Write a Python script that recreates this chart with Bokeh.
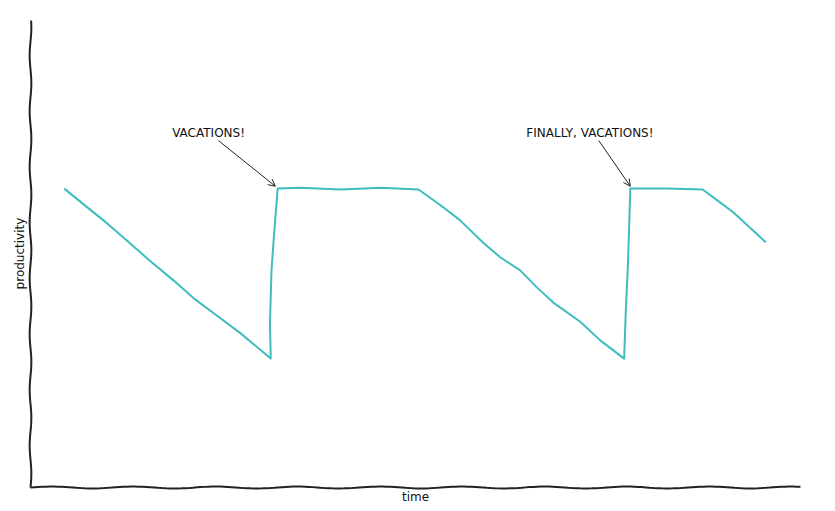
import numpy as np
from bokeh.plotting import figure
from bokeh.models import Range1d, Label, Arrow, OpenHead
from bokeh.embed import file_html
from bokeh.resources import INLINE

# productivity over time (both axes 0..100)
time = [4.4, 6.1, 10.0, 12.1, 15.2, 18.6, 21.2, 23.8, 27.3, 31.2,
        31.1, 31.3, 31.6, 32.1, 35.1, 40.3, 45.5, 50.4,
        53.6, 55.8, 58.8, 61.0, 63.6, 65.8, 67.9, 71.4, 74.0, 77.1,
        77.3, 77.6, 77.9, 78.8, 82.7, 87.3, 89.6, 91.3, 95.5]
productivity = [64.0, 61.7, 56.5, 53.5, 49.0, 44.3, 40.5, 37.3, 33.0, 27.6,
                35.1, 46.5, 53.5, 64.0, 64.2, 63.8, 64.2, 63.8,
                60.0, 57.2, 52.4, 49.3, 46.5, 42.8, 39.6, 35.5, 31.5, 27.6,
                37.3, 48.0, 64.0, 64.0, 64.0, 63.8, 61.0, 58.9, 52.5]

notes = ["VACATIONS!", "FINALLY, VACATIONS!"]
note_x = [18.4, 64.4]
note_y = [76.0, 76.0]
arrow_start = [(24.4, 74.3), (73.8, 74.3)]
arrow_end = [(31.8, 64.5), (77.9, 64.5)]

FONT = "DejaVu Sans"

# the frame fills the whole figure, the drawn spines sit inside it
p = figure(
    width=819, height=505,
    x_range=Range1d(-3.896, 102.47), y_range=Range1d(-3.854, 104.28),
    min_border=0, toolbar_location=None, output_backend="svg",
)
p.axis.visible = False
p.grid.grid_line_color = None
p.outline_line_color = None
p.background_fill_color = "white"

# hand-drawn looking spines (decoration only)
sx = np.linspace(0, 100, 200)
p.line(sx, 0.2 * np.sin(sx / 1.7), line_color="#222222", line_width=2)
sy = np.linspace(0, 100, 200)
p.line(0.11 * np.sin(sy / 1.9), sy, line_color="#222222", line_width=2)

p.line(time, productivity, line_color="#3dbdbd", line_width=2, line_join="round")

for txt, x, y in zip(notes, note_x, note_y):
    p.add_layout(Label(x=x, y=y, text=txt, text_font=FONT, text_font_size="12px",
                       text_color="#111111", text_baseline="middle"))

for (x0, y0), (x1, y1) in zip(arrow_start, arrow_end):
    p.add_layout(Arrow(x_start=x0, y_start=y0, x_end=x1, y_end=y1,
                       line_color="#222222", line_width=1,
                       end=OpenHead(size=7, line_color="#222222", line_width=1)))

p.add_layout(Label(x=50, y=-1.93, text="time", text_font=FONT, text_font_size="12px",
                   text_align="center", text_baseline="middle", text_color="#111111"))
p.add_layout(Label(x=-1.3, y=50.1, text="productivity", text_font=FONT, text_font_size="12px",
                   text_align="center", text_baseline="middle", angle=np.pi / 2,
                   text_color="#111111"))

open("out.html", "w").write(file_html(p, INLINE))
